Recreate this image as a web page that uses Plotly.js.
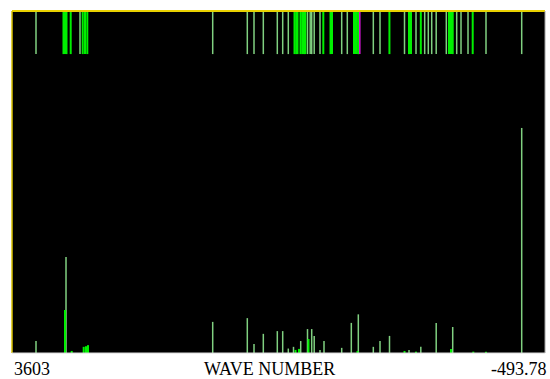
<!DOCTYPE html>
<html>
<head>
<meta charset="utf-8">
<script src="https://cdn.plot.ly/plotly-3.0.1.min.js"></script>
<style>html,body{margin:0;padding:0;background:#fff;}#chart{width:550px;height:379px;}</style>
</head>
<body>
<div id="chart"></div>
<script>
// Axis limits and labels
const xStart = 3603;
const xEnd = -493.78;
const axisLabels = ["3603", "WAVE NUMBER", "-493.78"];

// Peak positions (wave number) and intensities (% of full scale)
const palePeakX = [3418.5, 3187.9, 2060.4, 1794.4, 1742.9, 1671.4, 1563.8, 1522.3, 1479.3, 1439.3, 1384.0, 1331.7, 1299.4, 1280.2, 1235.6, 1204.9, 1068.8, 995.0, 941.2, 825.9, 774.4, 701.4, 551.5, 460.8, 342.5, 215.6, -314.7];
const palePeakY = [3.5, 28.1, 9.1, 10.2, 2.6, 5.6, 6.4, 6.4, 1.3, 1.8, 3.5, 7.0, 7.0, 5.0, 0.9, 3.5, 1.5, 8.8, 11.3, 1.8, 3.5, 5.0, 0.9, 1.8, 8.8, 7.6, 65.8];
const brightPeakX = [3195.6, 3144.1, 3051.9, 3034.2, 3018.8, 1423.9, 1397.0, 1324.0, 947.4, 586.1, 497.7, 228.7, 57.3, -40.3];
const brightPeakY = [12.6, 0.6, 1.8, 2.0, 2.3, 0.9, 1.2, 4.1, 0.6, 0.6, 0.4, 1.2, 0.4, 0.4];

// Assignment markers along the top
const paleMarkX = [3418.5, 3080.3, 2060.4, 1794.4, 1742.9, 1671.4, 1563.8, 1522.3, 1479.3, 1331.7, 1311.0, 1299.4, 1280.2, 1235.6, 1068.8, 1025.8, 825.9, 774.4, 586.1, 497.7, 430.9, 403.2, 377.0, 342.5, 264.8, 184.9, 151.8, 98.0, -40.3, -314.7];
const brightMarkX = [3207.2, 3195.6, 3184.1, 3151.8, 3059.6, 3041.9, 3024.2, 1431.6, 1418.6, 1408.5, 1385.3, 1371.5, 1358.5, 1348.4, 1210.3, 1154.9, 1143.4, 974.3, 958.9, 943.0, 935.0, 702.0, 551.5, 536.2, 460.8, 244.1, 228.7, 215.6, 61.9];
const selectedMarkX = [929.7];

const markLow = 87.4, markHigh = 100;

function stems(xs, ys) {
  const X = [], Y = [];
  xs.forEach((x, i) => { X.push(x, x, null); Y.push(0, ys[i], null); });
  return {X, Y};
}
function marks(xs) {
  const X = [], Y = [];
  xs.forEach(x => { X.push(x, x, null); Y.push(markLow, markHigh, null); });
  return {X, Y};
}

const pale = '#80d080', bright = '#00f000';
const ps = stems(palePeakX, palePeakY), bs = stems(brightPeakX, brightPeakY);
const pm = marks(paleMarkX), bm = marks(brightMarkX), sm = marks(selectedMarkX);

const line = (d, c, w) => ({x: d.X, y: d.Y, type: 'scatter', mode: 'lines', connectgaps: false,
  line: {color: c, width: w}, hoverinfo: 'skip', showlegend: false});

const traces = [
  line(pm, pale, 1.5), line(bm, bright, 2), line(sm, '#e000e0', 1.5),
  line(ps, pale, 1.5), line(bs, bright, 2)
];

const fnt = {family: '"Liberation Serif", serif', size: 18, color: '#000'};

const layout = {
  width: 550, height: 379,
  font: {family: '"Liberation Serif", serif'},
  margin: {l: 12, r: 5, t: 11, b: 26, pad: 0},
  paper_bgcolor: '#ffffff', plot_bgcolor: '#000000',
  xaxis: {range: [xStart, xEnd], showgrid: false, zeroline: false, showticklabels: false, ticks: '', showline: false, fixedrange: true},
  yaxis: {range: [0, 100], showgrid: false, zeroline: false, showticklabels: false, ticks: '', showline: false, fixedrange: true},
  shapes: [
    {type: 'line', xref: 'paper', yref: 'paper', x0: 0, x1: 1, y0: 1, y1: 1, line: {color: '#e8d000', width: 2}},
    {type: 'line', xref: 'paper', yref: 'paper', x0: 0, x1: 0, y0: 0, y1: 1, line: {color: '#d8c000', width: 1.5}},
    {type: 'line', xref: 'paper', yref: 'paper', x0: 1, x1: 1, y0: 0, y1: 1, line: {color: '#a0a0a0', width: 1}},
    {type: 'line', xref: 'paper', yref: 'paper', x0: 0, x1: 1, y0: 0, y1: 0, line: {color: '#d8d8d8', width: 1}}
  ],
  annotations: [
    {text: axisLabels[0], xref: 'paper', yref: 'paper', x: 0, y: 0, xanchor: 'left', yanchor: 'top', yshift: -4, showarrow: false, font: fnt},
    {text: axisLabels[1], xref: 'paper', yref: 'paper', x: 0.483, y: 0, xanchor: 'center', yanchor: 'top', yshift: -4, showarrow: false, font: fnt},
    {text: axisLabels[2], xref: 'paper', yref: 'paper', x: 1, y: 0, xanchor: 'right', yanchor: 'top', yshift: -4, xshift: 4, showarrow: false, font: fnt}
  ]
};

Plotly.newPlot('chart', traces, layout, {displayModeBar: false, staticPlot: true});
</script>
</body>
</html>
